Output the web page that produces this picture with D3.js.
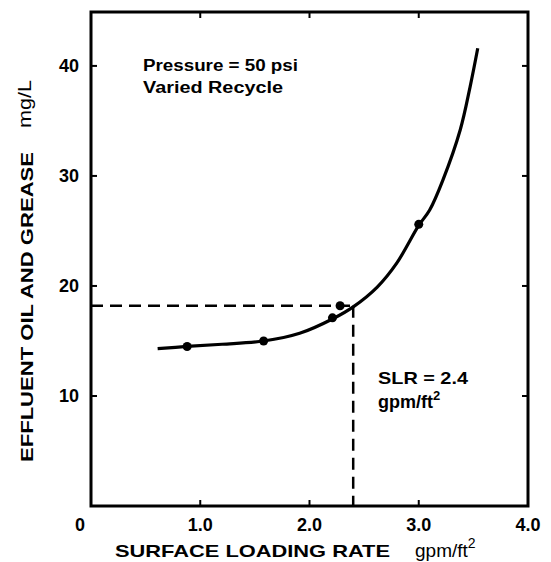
<!DOCTYPE html>
<html><head><meta charset="utf-8">
<script src="https://cdn.jsdelivr.net/npm/d3@7"></script>
<style>
html,body{margin:0;padding:0;background:#fff;}
text{font-family:"Liberation Sans",Arial,Helvetica,sans-serif;fill:#000;}
</style></head>
<body><div id="chart"></div>
<script>
// data
const xTicks = [0, 1, 2, 3, 4];
const xTickLabels = ["0", "1.0", "2.0", "3.0", "4.0"];
const yTicks = [10, 20, 30, 40];
const yTickLabels = ["10", "20", "30", "40"];
const curveX = [0.61, 0.88, 1.2, 1.58, 1.91, 2.21, 2.40, 2.62, 2.80, 3.00, 3.10, 3.22, 3.38, 3.47, 3.54];
const curveY = [14.3, 14.5, 14.7, 15.0, 15.7, 17.0, 18.1, 19.9, 22.1, 25.5, 26.9, 29.6, 34.2, 38.1, 41.6];
const pointX = [0.88, 1.58, 2.21, 2.28, 3.0];
const pointY = [14.5, 15.0, 17.1, 18.2, 25.6];
const slr = 2.4;
const slrY = 18.2;

const W = 551, H = 562;
const svg = d3.select("#chart").append("svg").attr("width", W).attr("height", H);
const x = d3.scaleLinear().domain([0, 4]).range([91, 528]);
const y = d3.scaleLinear().domain([0, 44.9]).range([506, 12]);

// inward ticks
const tl = 6;
const g = svg.append("g").attr("stroke", "#000").attr("stroke-width", 2);
[1, 2, 3].forEach(v => {
  g.append("line").attr("x1", x(v)).attr("x2", x(v)).attr("y1", y(0)).attr("y2", y(0) - tl);
  g.append("line").attr("x1", x(v)).attr("x2", x(v)).attr("y1", y(44.9)).attr("y2", y(44.9) + tl);
});
yTicks.forEach(v => {
  g.append("line").attr("x1", x(0)).attr("x2", x(0) + tl).attr("y1", y(v)).attr("y2", y(v));
  g.append("line").attr("x1", x(4)).attr("x2", x(4) - tl).attr("y1", y(v)).attr("y2", y(v));
});

// frame
svg.append("rect").attr("x", x(0)).attr("y", y(44.9)).attr("width", x(4) - x(0)).attr("height", y(0) - y(44.9))
  .attr("fill", "none").attr("stroke", "#000").attr("stroke-width", 3);

// tick labels
xTicks.forEach((v, i) => {
  svg.append("text").attr("x", x(v) + (i === 0 ? -11 : 0)).attr("y", 531).attr("text-anchor", "middle")
    .attr("font-size", 18).attr("font-weight", "bold").text(xTickLabels[i]);
});
yTicks.forEach((v, i) => {
  svg.append("text").attr("x", 79).attr("y", y(v) + 6).attr("text-anchor", "end")
    .attr("font-size", 18).attr("font-weight", "bold").text(yTickLabels[i]);
});

// dashed guides
svg.append("line").attr("x1", x(0)).attr("x2", x(slr)).attr("y1", y(slrY)).attr("y2", y(slrY))
  .attr("stroke", "#000").attr("stroke-width", 2.5).attr("stroke-dasharray", "12,7");
svg.append("line").attr("x1", x(slr)).attr("x2", x(slr)).attr("y1", y(slrY)).attr("y2", y(0))
  .attr("stroke", "#000").attr("stroke-width", 2.5).attr("stroke-dasharray", "12,7");

// curve
const line = d3.line().x((d, i) => x(curveX[i])).y((d, i) => y(curveY[i])).curve(d3.curveCatmullRom.alpha(0.5));
svg.append("path").attr("d", line(curveX)).attr("fill", "none").attr("stroke", "#000").attr("stroke-width", 3.2);

// points
svg.selectAll("circle.pt").data(pointX).enter().append("circle").attr("class", "pt")
  .attr("cx", (d) => x(d)).attr("cy", (d, i) => y(pointY[i])).attr("r", 4.5).attr("fill", "#000");

// annotations
svg.append("text").attr("x", 143).attr("y", 71).attr("font-size", 16).attr("font-weight", "bold")
  .attr("textLength", 155).attr("lengthAdjust", "spacingAndGlyphs").text("Pressure = 50 psi");
svg.append("text").attr("x", 143).attr("y", 93).attr("font-size", 16).attr("font-weight", "bold")
  .attr("textLength", 140).attr("lengthAdjust", "spacingAndGlyphs").text("Varied Recycle");
svg.append("text").attr("x", 378).attr("y", 384).attr("font-size", 17).attr("font-weight", "bold")
  .attr("textLength", 90).attr("lengthAdjust", "spacingAndGlyphs").text("SLR = 2.4");
const t2 = svg.append("text").attr("x", 378).attr("y", 408).attr("font-size", 18).attr("font-weight", "bold");
t2.append("tspan").text("gpm/ft");
t2.append("tspan").attr("dy", -8).attr("font-size", 13).text("2");

// axis titles
svg.append("text").attr("x", 115).attr("y", 557).attr("font-size", 17).attr("font-weight", "bold")
  .attr("textLength", 275).attr("lengthAdjust", "spacingAndGlyphs").text("SURFACE LOADING RATE");
const xu = svg.append("text").attr("x", 415).attr("y", 557).attr("font-size", 19);
xu.append("tspan").text("gpm/ft");
xu.append("tspan").attr("dy", -9).attr("font-size", 14).text("2");

svg.append("text").attr("transform", "translate(33,462) rotate(-90)").attr("font-size", 17).attr("font-weight", "bold")
  .attr("textLength", 310).attr("lengthAdjust", "spacingAndGlyphs").text("EFFLUENT OIL AND GREASE");
svg.append("text").attr("transform", "translate(31,128) rotate(-90)").attr("font-size", 18)
  .attr("textLength", 48).attr("lengthAdjust", "spacingAndGlyphs").text("mg/L");
</script></body></html>
